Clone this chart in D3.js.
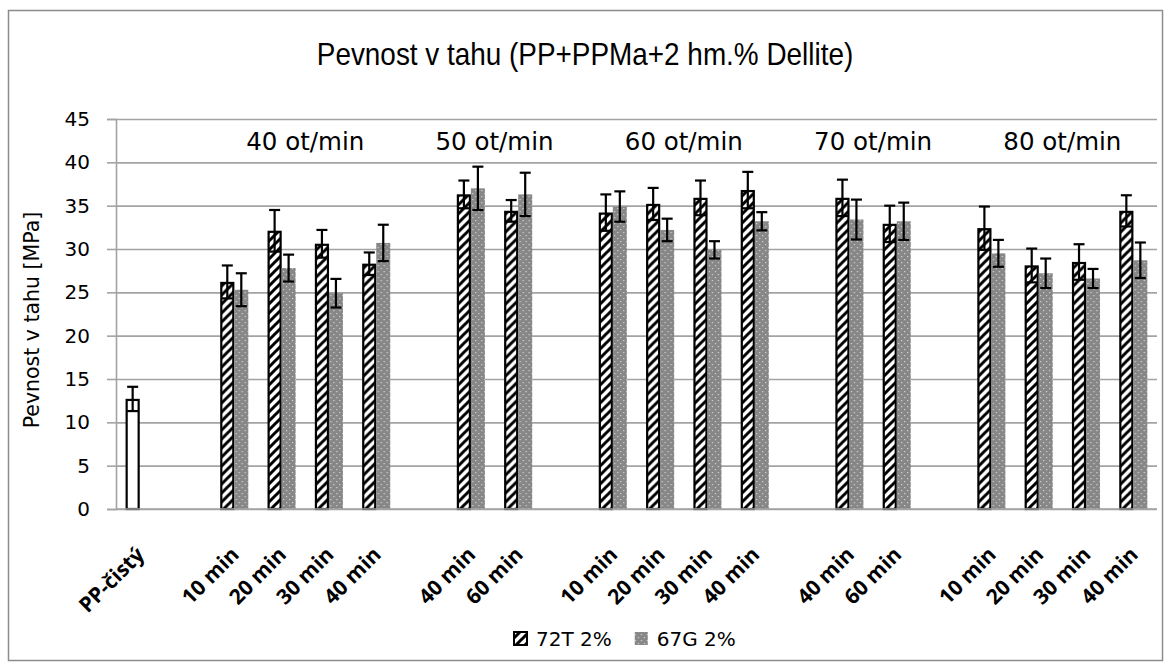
<!DOCTYPE html>
<html>
<head>
<meta charset="utf-8">
<script src="https://cdn.jsdelivr.net/npm/d3@7"></script>
<style>
  body { margin: 0; background: #fff; }
  svg text { font-family: "DejaVu Sans", sans-serif; fill: #000; }
</style>
</head>
<body>
<svg id="chart" width="1170" height="666"></svg>
<script>
// x axis categories (empty string = gap between speed groups)
const categories = ['PP-čistý', '', '10 min', '20 min', '30 min', '40 min', '', '40 min', '60 min', '',
  '10 min', '20 min', '30 min', '40 min', '', '40 min', '60 min', '', '10 min', '20 min', '30 min', '40 min'];

// series names
const seriesNames = ['72T 2%', '67G 2%'];

// tensile strength [MPa] and its deviation
const values72T = [12.7, null, 26.2, 32.1, 30.6, 28.3, null, 36.3, 34.4, null,
  34.2, 35.2, 35.9, 36.8, null, 35.9, 32.9, null, 32.4, 28.1, 28.5, 34.4];
const errors72T = [1.4, null, 1.9, 2.4, 1.6, 1.3, null, 1.6, 1.25, null,
  2.1, 1.85, 2.0, 2.1, null, 2.1, 2.1, null, 2.5, 1.95, 2.05, 1.8];
const values67G = [null, null, 25.3, 27.8, 24.9, 30.7, null, 37.0, 36.3, null,
  34.9, 32.2, 29.9, 33.2, null, 33.4, 33.2, null, 29.5, 27.2, 26.6, 28.7];
const errors67G = [null, null, 1.9, 1.55, 1.65, 2.1, null, 2.5, 2.5, null,
  1.75, 1.3, 1.0, 1.05, null, 2.3, 2.15, null, 1.55, 1.7, 1.1, 2.05];

// speed groups: label and first/last category index
const groupNames = ['40 ot/min', '50 ot/min', '60 ot/min', '70 ot/min', '80 ot/min'];
const groupFirst = [2, 7, 10, 15, 18];
const groupLast = [5, 8, 13, 16, 21];

// y axis ticks
const yTicks = [0, 5, 10, 15, 20, 25, 30, 35, 40, 45];

const title = 'Pevnost v tahu (PP+PPMa+2 hm.% Dellite)';
const yTitle = 'Pevnost v tahu [MPa]';
const plainCategory = 'PP-čistý';

const width = 1170;
const height = 666;
const plot = { left: 116, right: 1157, top: 119, bottom: 509 };

const svg = d3.select('#chart');

// patterns
const defs = svg.append('defs');
const hatch = defs.append('pattern')
  .attr('id', 'hatch')
  .attr('patternUnits', 'userSpaceOnUse')
  .attr('width', 9).attr('height', 9);
hatch.append('rect').attr('width', 9).attr('height', 9).attr('fill', '#fff');
hatch.append('path')
  .attr('d', 'M-2,2 L2,-2 M0,9 L9,0 M7,11 L11,7')
  .attr('stroke', '#000')
  .attr('stroke-width', 3);

const dots = defs.append('pattern')
  .attr('id', 'dots')
  .attr('patternUnits', 'userSpaceOnUse')
  .attr('width', 6).attr('height', 6);
dots.append('rect').attr('width', 6).attr('height', 6).attr('fill', '#878787');
dots.append('rect').attr('x', 1).attr('y', 1).attr('width', 1.2).attr('height', 1.2).attr('fill', '#d4d4d4');
dots.append('rect').attr('x', 4).attr('y', 4).attr('width', 1.2).attr('height', 1.2).attr('fill', '#d4d4d4');

const fills = ['url(#hatch)', 'url(#dots)'];

// outer chart border
svg.append('rect')
  .attr('x', 8.5).attr('y', 10.5)
  .attr('width', 1154).attr('height', 650)
  .attr('fill', 'none')
  .attr('stroke', '#8c8c8c')
  .attr('stroke-width', 1.5);

// title (condensed look)
svg.append('text')
  .attr('transform', 'translate(585,65) scale(0.9,1)')
  .attr('text-anchor', 'middle')
  .style('font-family', '"Liberation Sans", sans-serif')
  .style('font-size', '31px')
  .text(title);

// scales
const y = d3.scaleLinear().domain([0, 45]).range([plot.bottom, plot.top]);
const x0 = d3.scaleBand()
  .domain(d3.range(categories.length))
  .range([plot.left, plot.right]);
const x1 = d3.scaleBand()
  .domain(seriesNames)
  .range([0, x0.bandwidth()])
  .paddingOuter(0.69);

// gridlines
svg.append('g')
  .attr('transform', `translate(${plot.left},0)`)
  .call(d3.axisLeft(y).tickValues(yTicks).tickSize(-(plot.right - plot.left)).tickFormat(''))
  .call(g => g.select('.domain').remove())
  .call(g => g.selectAll('line').attr('stroke', '#a3a3a3').attr('stroke-width', 1.6));

// y axis with outside ticks and labels
svg.append('g')
  .attr('transform', `translate(${plot.left},0)`)
  .call(d3.axisLeft(y).tickValues(yTicks).tickSize(9).tickPadding(17))
  .call(g => g.select('.domain').attr('stroke', '#a3a3a3').attr('stroke-width', 1.6))
  .call(g => g.selectAll('line').attr('stroke', '#a3a3a3').attr('stroke-width', 1.6))
  .call(g => g.selectAll('text')
    .style('font-family', '"DejaVu Sans", sans-serif')
    .style('font-size', '20px')
    .attr('fill', '#000'));

// y axis title
svg.append('text')
  .attr('transform', 'translate(32,320) rotate(-90)')
  .attr('text-anchor', 'middle')
  .attr('dominant-baseline', 'central')
  .style('font-size', '20.5px')
  .text(yTitle);

// bars
const rows = categories.map((c, i) => ({
  i: i,
  cat: c,
  items: [
    { s: seriesNames[0], v: values72T[i], e: errors72T[i], k: 0 },
    { s: seriesNames[1], v: values67G[i], e: errors67G[i], k: 1 }
  ].filter(d => d.v != null)
}));

const groups = svg.append('g')
  .selectAll('g')
  .data(rows)
  .join('g')
  .attr('transform', d => `translate(${x0(d.i)},0)`);

groups.selectAll('rect')
  .data(d => d.items.map(it => Object.assign({ cat: d.cat }, it)))
  .join('rect')
  .attr('x', d => x1(d.s) + (d.k === 0 ? 1 : 0))
  .attr('y', d => y(d.v) + (d.k === 0 ? 1 : 0))
  .attr('width', d => x1.bandwidth() - (d.k === 0 ? 2 : 0))
  .attr('height', d => plot.bottom - y(d.v) - (d.k === 0 ? 1 : 0))
  .attr('fill', d => d.cat === plainCategory ? '#fff' : fills[d.k])
  .attr('stroke', d => d.k === 0 ? '#000' : 'none')
  .attr('stroke-width', 2.2);

// x axis line
svg.append('line')
  .attr('x1', plot.left).attr('x2', plot.right)
  .attr('y1', plot.bottom).attr('y2', plot.bottom)
  .attr('stroke', '#a3a3a3')
  .attr('stroke-width', 1.6);

// error bars
const errs = groups.selectAll('g.err')
  .data(d => d.items)
  .join('g')
  .attr('class', 'err')
  .attr('transform', d => `translate(${x1(d.s) + x1.bandwidth() / 2},0)`);
const capW = 5.5;
errs.append('line')
  .attr('y1', d => y(d.v + d.e)).attr('y2', d => y(d.v - d.e))
  .attr('stroke', '#000').attr('stroke-width', 2.2);
errs.append('line')
  .attr('x1', -capW).attr('x2', capW)
  .attr('y1', d => y(d.v + d.e)).attr('y2', d => y(d.v + d.e))
  .attr('stroke', '#000').attr('stroke-width', 2.2);
errs.append('line')
  .attr('x1', -capW).attr('x2', capW)
  .attr('y1', d => y(d.v - d.e)).attr('y2', d => y(d.v - d.e))
  .attr('stroke', '#000').attr('stroke-width', 2.2);

// rotated category labels
svg.append('g')
  .selectAll('text')
  .data(rows.filter(d => d.cat !== ''))
  .join('text')
  .attr('transform', d => `translate(${x0(d.i) + x0.bandwidth() / 2 + 6},556) rotate(-45)`)
  .attr('text-anchor', 'end')
  .style('font-family', '"Open Sans", sans-serif')
  .style('font-weight', 700)
  .style('font-size', '21px')
  .text(d => d.cat);

// speed group labels
svg.append('g')
  .selectAll('text')
  .data(groupNames)
  .join('text')
  .attr('x', (d, i) => (x0(groupFirst[i]) + x0(groupLast[i]) + x0.bandwidth()) / 2)
  .attr('y', 150)
  .attr('text-anchor', 'middle')
  .style('font-size', '24.5px')
  .text(d => d);

// legend
const legend = svg.append('g').attr('transform', 'translate(513,639)');
let lx = 0;
seriesNames.forEach((name, k) => {
  const item = legend.append('g').attr('transform', `translate(${lx},0)`);
  item.append('rect')
    .attr('x', 1).attr('y', -7)
    .attr('width', 13).attr('height', 13)
    .attr('fill', fills[k])
    .attr('stroke', k === 0 ? '#000' : 'none')
    .attr('stroke-width', 2);
  const t = item.append('text')
    .attr('x', 23).attr('y', 0)
    .attr('dominant-baseline', 'central')
    .style('font-size', '20px')
    .text(name);
  lx += 23 + t.node().getComputedTextLength() + 22;
});
</script>
</body>
</html>
